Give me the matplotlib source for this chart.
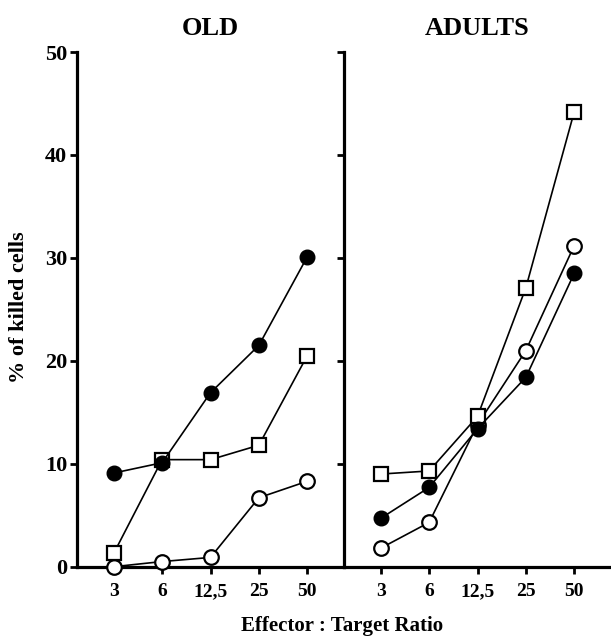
import matplotlib
matplotlib.use("Agg")
import matplotlib.pyplot as plt

categories = ["3", "6", "12,5", "25", "50"]
yticks = [0, 10, 20, 30, 40, 50]

old_filled = [9.1, 10.1, 16.9, 21.5, 30.1]
old_square = [1.3, 10.4, 10.4, 11.8, 20.5]
old_open = [0.0, 0.5, 0.9, 6.7, 8.3]

adult_square = [9.0, 9.3, 14.6, 27.1, 44.2]
adult_filled = [4.7, 7.7, 13.4, 18.4, 28.5]
adult_open = [1.8, 4.3, 13.8, 21.0, 31.2]

plt.rcParams['font.family'] = ['Liberation Serif', 'DejaVu Serif']
plt.rcParams['font.weight'] = 'bold'

fig = plt.figure(figsize=(6.11, 6.37), dpi=100)
axL = fig.add_axes([77/611, 70.3/637, 267/611, 514.7/637])
axR = fig.add_axes([344/611, 70.3/637, 267/611, 514.7/637])

x = list(range(len(categories)))

def draw(ax, series):
    for vals, kind in series:
        if kind == 'filled':
            kw = dict(marker='o', markerfacecolor='black', markeredgecolor='black', markersize=10.5)
        elif kind == 'open':
            kw = dict(marker='o', markerfacecolor='white', markeredgecolor='black', markersize=10.5, markeredgewidth=1.6)
        else:
            kw = dict(marker='s', markerfacecolor='white', markeredgecolor='black', markersize=10.5, markeredgewidth=1.6)
        ax.plot(x, vals, color='black', linewidth=1.2, clip_on=False, zorder=5, **kw)
    ax.set_xlim(-0.76, 4.76)
    ax.set_ylim(0, 50)
    ax.set_xticks(x)
    ax.set_xticklabels(categories, fontsize=14, fontweight='bold')
    ax.set_yticks(yticks)
    for s in ['top', 'right']:
        ax.spines[s].set_visible(False)
    for s in ['left', 'bottom']:
        ax.spines[s].set_linewidth(2.3)
    ax.tick_params(axis='both', direction='out', length=5, width=2)
    ax.tick_params(axis='x', pad=7)
    ax.tick_params(axis='y', pad=2)

draw(axL, [(old_open, 'open'), (old_square, 'square'), (old_filled, 'filled')])
draw(axR, [(adult_open, 'open'), (adult_square, 'square'), (adult_filled, 'filled')])

axL.set_yticklabels([str(v) for v in yticks], fontsize=16, fontweight='bold')
axR.set_yticklabels([])

axL.set_title("OLD", fontsize=19, fontweight='bold', pad=12)
axR.set_title("ADULTS", fontsize=19, fontweight='bold', pad=12)
fig.text(19/611, 1 - 307/637, "% of killed cells", rotation=90, ha='center', va='center', fontsize=16, fontweight='bold')
fig.text(342/611, 1 - 626/637, "Effector : Target Ratio", ha='center', va='center', fontsize=15, fontweight='bold')

fig.savefig("out.png", dpi=100)
